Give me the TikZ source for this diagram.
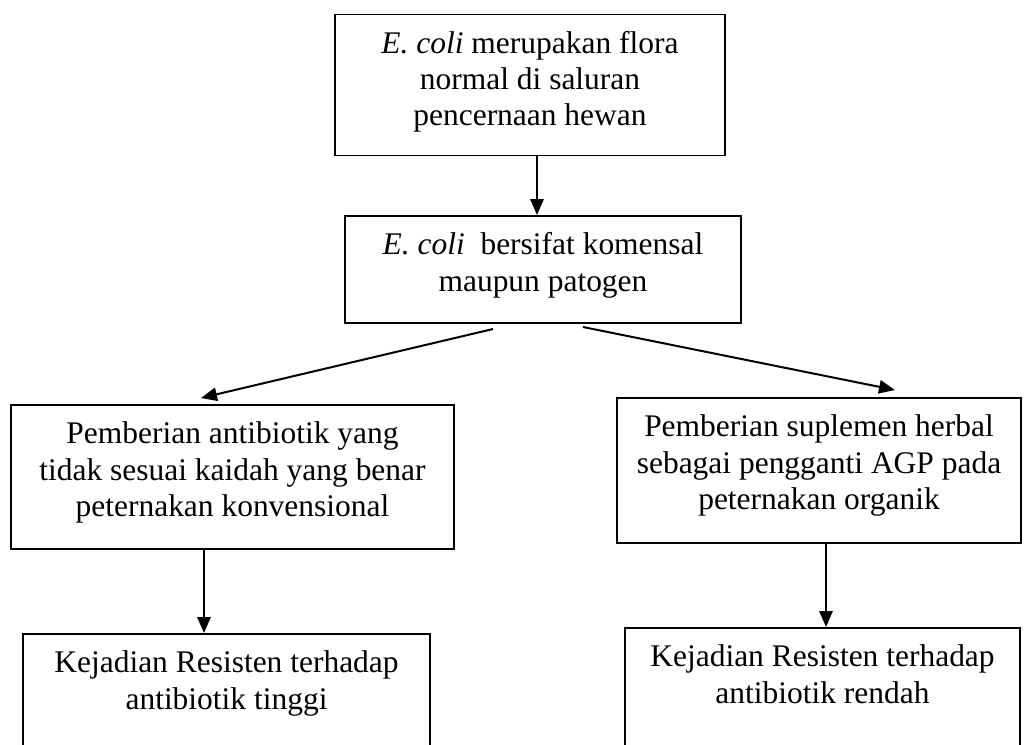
\documentclass[tikz,border=0pt]{standalone}
\usepackage{fontspec}
\setmainfont{Liberation Serif}
\usetikzlibrary{arrows.meta}
\begin{document}
\begin{tikzpicture}[x=0.75pt,y=-0.75pt,
  box/.style={draw, line width=1.35pt, align=center, anchor=north,
    inner xsep=0pt, inner ysep=13pt,
    font=\fontsize{23.6}{27.2}\selectfont},
  twolines/.style={box, text height=43.4pt},
  threelines/.style={box, text height=70.6pt},
  arr/.style={line width=1.5pt, -{Triangle[length=12pt,width=10pt]}}]
\useasboundingbox (0,0) rectangle (1024,744);
\clip (0,0) rectangle (1024,744);

\node[threelines, minimum width=292.5pt, text depth=9.15pt] (b1) at (530,13.5)
  {\textit{E. coli} merupakan flora\\normal di saluran\\pencernaan hewan};
\node[twolines, minimum width=297pt, text depth=10.85pt] (b2) at (543,215)
  {\textit{E. coli}~ bersifat komensal\\maupun patogen};
\node[threelines, minimum width=332.25pt, text depth=11.4pt] (b3) at (232.5,404)
  {Pemberian antibiotik yang\\tidak sesuai kaidah yang benar\\peternakan konvensional};
\node[threelines, minimum width=303pt, text depth=12.15pt] (b4) at (819,397)
  {Pemberian suplemen herbal\\sebagai pengganti AGP pada\\peternakan organik};
\node[twolines, minimum width=305.25pt, text depth=160pt] (b5) at (226.5,633)
  {Kejadian Resisten terhadap\\antibiotik tinggi};
\node[twolines, minimum width=296.25pt, text depth=160pt] (b6) at (822.5,627)
  {Kejadian Resisten terhadap\\antibiotik rendah};

\coordinate (x1) at (537,0);
\coordinate (x3) at (204,0);
\coordinate (x4) at (826,0);
\coordinate (s1) at (493,329);
\coordinate (s2) at (583,327);
\coordinate (e1) at (201,398);
\coordinate (e2) at (895,390);

\draw[arr] (b1.south -| x1) -- (b2.north -| x1);
\draw[arr] (s1) -- (e1);
\draw[arr] (s2) -- (e2);
\draw[arr] (b3.south -| x3) -- (b5.north -| x3);
\draw[arr] (b4.south -| x4) -- (b6.north -| x4);
\end{tikzpicture}
\end{document}
